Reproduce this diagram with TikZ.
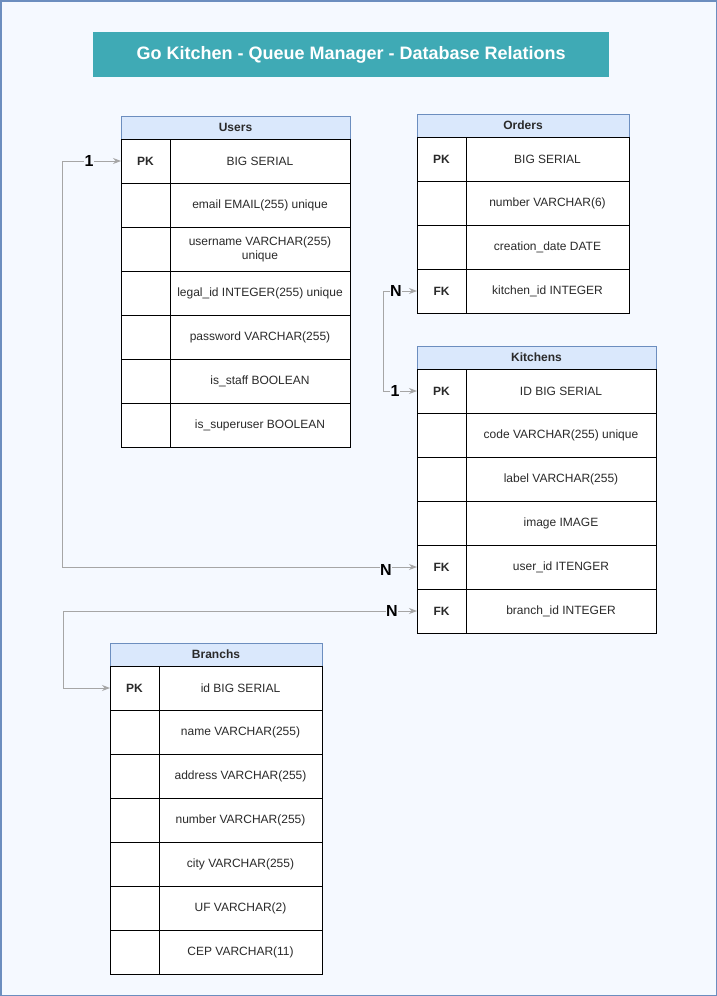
\documentclass[tikz,border=0pt]{standalone}
\usepackage{fontspec}
\setmainfont{Liberation Sans}
\usetikzlibrary{arrows.meta,calc}
\definecolor{bgc}{HTML}{F5F9FF}
\definecolor{framec}{HTML}{6C8EBF}
\definecolor{titlec}{HTML}{3FAAB5}
\definecolor{hdrfill}{HTML}{DAE8FC}
\definecolor{hdrdraw}{HTML}{6C8EBF}
\definecolor{txtc}{HTML}{2A2A2A}
\definecolor{connc}{HTML}{A6A6A6}
\tikzset{
  hdr/.style={draw=hdrdraw, fill=hdrfill, line width=0.9pt, minimum height=23pt, inner sep=0pt, outer sep=0pt, anchor=north west, font=\fontsize{12}{14}\selectfont\bfseries, text=txtc},
  keycell/.style={draw=black, fill=white, line width=1pt, minimum height=44pt, inner sep=0pt, outer sep=0pt, anchor=north west, font=\fontsize{12}{14}\selectfont\bfseries, text=txtc},
  fieldcell/.style={draw=black, fill=white, line width=1pt, minimum height=44pt, inner sep=0pt, outer sep=0pt, anchor=north west, align=center, font=\fontsize{12}{14}\selectfont, text=txtc},
  conn/.style={draw=connc, line width=1pt, {Stealth[length=8pt,width=6pt]}-{Stealth[length=8pt,width=6pt]}},
  card/.style={fill=bgc, inner sep=0.5pt, font=\fontsize{16}{18}\selectfont\bfseries, text=black},
}
% #1 name, #2 x, #3 y top, #4 width, #5 key width, #6 title, #7 rows
\newcommand\dbtab[7]{%
  \node[hdr, minimum width=#4] (#1h) at (#2,#3) {#6};
  \foreach[count=\i] \k/\f in {#7} {
    \pgfmathsetmacro\yy{#3+23+44*(\i-1)}
    \node[keycell, minimum width=#5] (#1k\i) at (#2,\yy) {\k};
    \node[fieldcell, minimum width=#4-#5] (#1f\i) at (#2+#5,\yy) {\f};
  }%
}
\begin{document}
\begin{tikzpicture}[x=1pt,y=-1pt]
\useasboundingbox (0,0) rectangle (717,996);
\fill[bgc] (0,0) rectangle (717,996);
\draw[framec, line width=1.5pt] (0.75,0.75) rectangle (716.25,995.25);
\node[fill=titlec, minimum width=516pt, minimum height=45pt, inner sep=0pt, anchor=north west, text=white, font=\fontsize{18}{21}\selectfont\bfseries] (title) at (93,32) {Go Kitchen - Queue Manager - Database Relations};

\dbtab{users}{121}{116}{229}{49}{Users}{PK/BIG SERIAL, /email EMAIL(255) unique, /{username VARCHAR(255)\\unique}, /legal\_id INTEGER(255) unique, /password VARCHAR(255), /is\_staff BOOLEAN, /is\_superuser BOOLEAN}
\dbtab{orders}{417}{114}{212}{49}{Orders}{PK/BIG SERIAL, /number VARCHAR(6), /creation\_date DATE, FK/kitchen\_id INTEGER}
\dbtab{kitchens}{417}{346}{239}{49}{Kitchens}{PK/ID BIG SERIAL, /code VARCHAR(255) unique, /label VARCHAR(255), /image IMAGE, FK/user\_id ITENGER, FK/branch\_id INTEGER}
\dbtab{branchs}{110}{643}{212}{49}{Branchs}{PK/id BIG SERIAL, /name VARCHAR(255), /address VARCHAR(255), /number VARCHAR(255), /city VARCHAR(255), /UF VARCHAR(2), /CEP VARCHAR(11)}

\draw[conn] (usersk1.west) -- ++(-59,0) coordinate (c1) |- (kitchensk5.west);
\draw[conn] (ordersk4.west) -- ++(-34,0) coordinate (c2) |- (kitchensk1.west);
\draw[conn] (kitchensk6.west) -- ++(-354,0) coordinate (c3) |- (branchsk1.west);

\node[card] (l1) at ($(usersk1.west)+(-32,0)$) {1};
\node[card] (l2) at ($(kitchensk5.west)+(-31,3)$) {N};
\node[card] (l3) at ($(ordersk4.west)+(-21,0)$) {N};
\node[card] (l4) at ($(kitchensk1.west)+(-22,0)$) {1};
\node[card] (l5) at ($(kitchensk6.west)+(-25,0)$) {N};
\end{tikzpicture}
\end{document}
